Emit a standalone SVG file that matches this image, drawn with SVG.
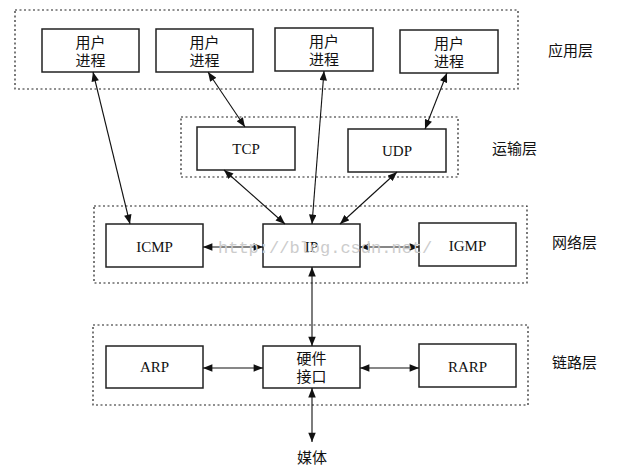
<svg xmlns="http://www.w3.org/2000/svg" width="631" height="472" viewBox="0 0 631 472">
<style>
.layer{fill:none;stroke:#222;stroke-width:1.2;stroke-dasharray:2 2.5}
.box{fill:#fff;stroke:#222;stroke-width:1.5}
.lat{font-family:"Liberation Serif","Times New Roman",serif;font-size:15px;fill:#111;text-anchor:middle}
.cjk{font-family:"Noto Sans CJK SC","Noto Sans",sans-serif;font-size:15px;fill:#111;text-anchor:middle}
.lbl{font-family:"Noto Sans CJK SC","Noto Sans",sans-serif;font-size:15px;fill:#111;text-anchor:start}
.wm{font-family:"Liberation Mono","Courier New",monospace;font-size:17px;fill:#ccc;text-anchor:start}
.con line{stroke:#111;stroke-width:1.1;marker-start:url(#ah);marker-end:url(#ah)}
</style>
<defs>
<marker id="ah" viewBox="0 0 10 8" refX="10" refY="4" markerWidth="10" markerHeight="7.5" markerUnits="userSpaceOnUse" orient="auto-start-reverse">
<path d="M0,0 L10,4 L0,8 z" fill="#111"/>
</marker>
</defs>
<rect width="631" height="472" fill="#fff"/>
<g id="layers">
<rect class="layer" x="15" y="10" width="503" height="79"/>
<rect class="layer" x="181" y="117" width="277" height="60"/>
<rect class="layer" x="94" y="206" width="433" height="77"/>
<rect class="layer" x="93" y="325" width="435" height="80"/>
</g>
<g id="layer-labels">
<text class="lbl" x="548" y="55.5">应用层</text>
<text class="lbl" x="492" y="153.5">运输层</text>
<text class="lbl" x="552" y="247.5">网络层</text>
<text class="lbl" x="552" y="367.5">链路层</text>
</g>
<g id="user1"><rect class="box" x="42" y="29" width="97" height="43"/><text class="cjk" y="47.5"><tspan x="90.5">用户</tspan><tspan x="90.5" dy="18">进程</tspan></text></g>
<g id="user2"><rect class="box" x="156" y="29" width="97" height="43"/><text class="cjk" y="47.5"><tspan x="204.5">用户</tspan><tspan x="204.5" dy="18">进程</tspan></text></g>
<g id="user3"><rect class="box" x="275" y="28" width="98" height="43"/><text class="cjk" y="46.5"><tspan x="324">用户</tspan><tspan x="324" dy="18">进程</tspan></text></g>
<g id="user4"><rect class="box" x="400" y="30" width="98" height="43"/><text class="cjk" y="48.5"><tspan x="449">用户</tspan><tspan x="449" dy="18">进程</tspan></text></g>
<g id="tcp"><rect class="box" x="197" y="127" width="98" height="43"/><text class="lat" x="246" y="154">TCP</text></g>
<g id="udp"><rect class="box" x="348" y="129" width="98" height="43"/><text class="lat" x="397" y="156">UDP</text></g>
<g id="icmp"><rect class="box" x="106" y="224" width="97" height="43"/><text class="lat" x="154.5" y="252">ICMP</text></g>
<g id="ip"><rect class="box" x="263" y="224" width="97" height="43"/><text class="lat" x="311.5" y="252">IP</text></g>
<g id="igmp"><rect class="box" x="419" y="223" width="97" height="43"/><text class="lat" x="467.5" y="251">IGMP</text></g>
<g id="arp"><rect class="box" x="106" y="346" width="97" height="42"/><text class="lat" x="154.5" y="372">ARP</text></g>
<g id="hw"><rect class="box" x="263" y="346" width="97" height="42"/><text class="cjk" y="363.5"><tspan x="311.5">硬件</tspan><tspan x="311.5" dy="18">接口</tspan></text></g>
<g id="rarp"><rect class="box" x="419" y="344" width="97" height="43"/><text class="lat" x="467.5" y="372">RARP</text></g>
<g id="media"><text class="cjk" x="312" y="462.5">媒体</text></g>
<g id="connectors" class="con">
<line x1="93" y1="72" x2="130" y2="224"/>
<line x1="208" y1="72" x2="245" y2="127"/>
<line x1="324" y1="71" x2="312" y2="224"/>
<line x1="447" y1="73" x2="425" y2="129"/>
<line x1="224" y1="170" x2="285" y2="224"/>
<line x1="397" y1="172" x2="340" y2="224"/>
<line x1="203" y1="247" x2="263" y2="247"/>
<line x1="360" y1="247" x2="419" y2="247"/>
<line x1="312" y1="267" x2="312" y2="346"/>
<line x1="203" y1="368" x2="263" y2="368"/>
<line x1="360" y1="368" x2="419" y2="368"/>
<line x1="312" y1="388" x2="312" y2="442"/>
</g>
<text class="wm" x="218" y="253">http://blog.csdn.net/</text>
</svg>
